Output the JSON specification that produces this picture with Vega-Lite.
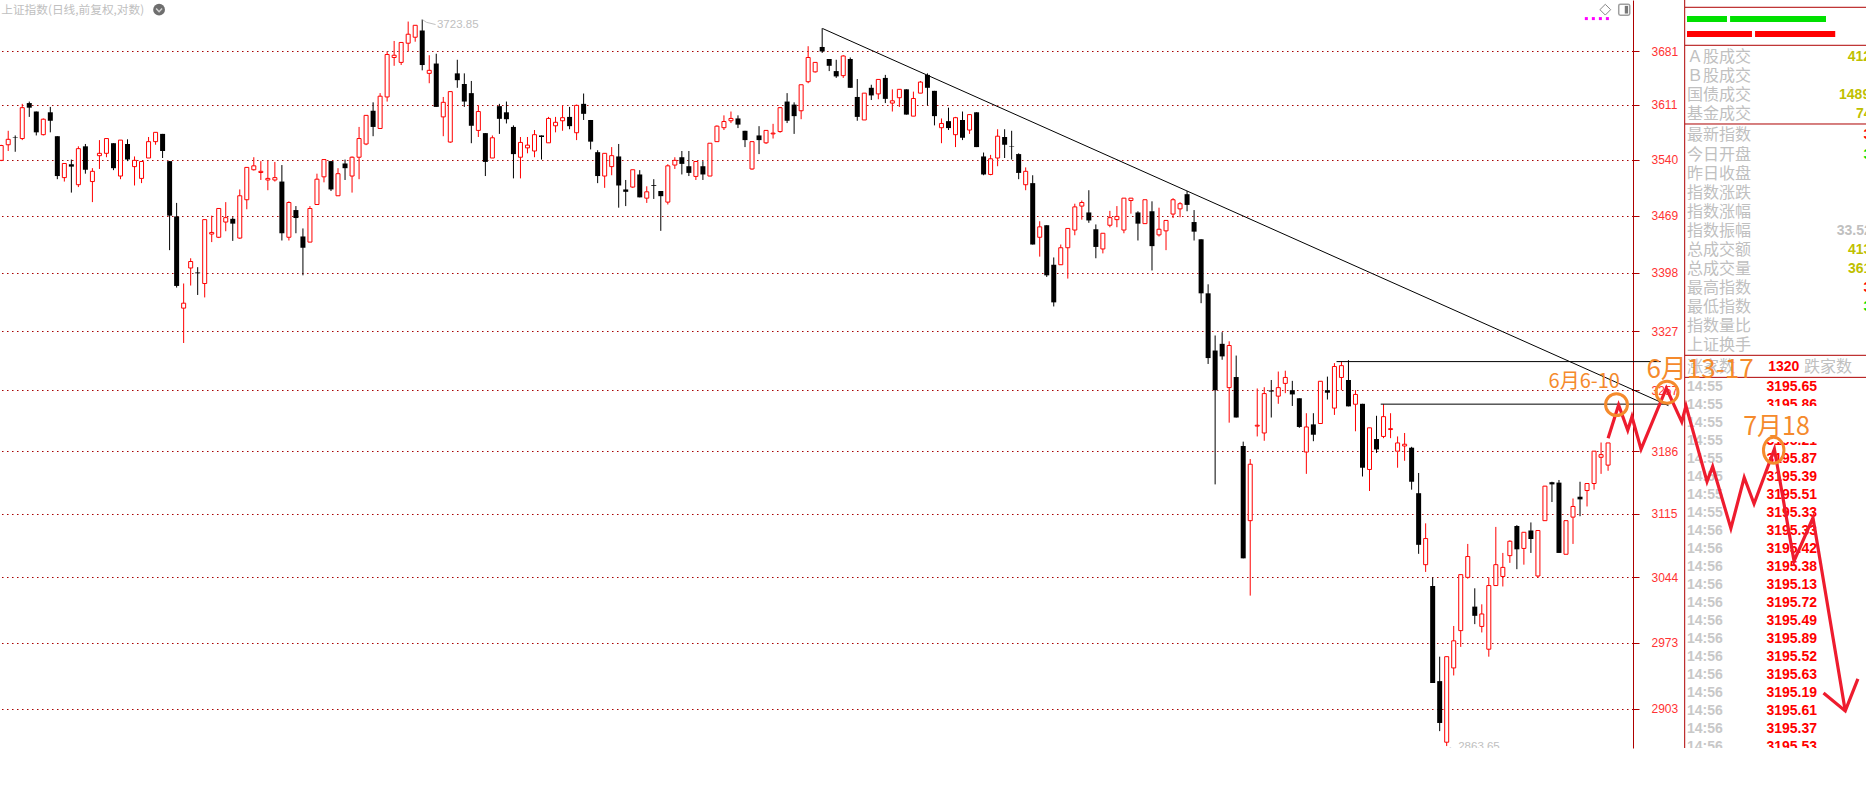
{"$schema":"https://vega.github.io/schema/vega-lite/v6.json","width":1633,"height":748,"autosize":{"type":"none"},"padding":{"left":0,"top":0,"right":233,"bottom":48},"background":"#ffffff","config":{"view":{"stroke":null}},
"datasets":{"candles":[
{"n":0,"o":3539,"h":3559,"l":3538,"c":3558},{"n":1,"o":3559,"h":3577,"l":3551,"c":3566},{"n":2,"o":3569,"h":3571,"l":3550,"c":3568.5},{"n":3,"o":3567,"h":3612,"l":3565,"c":3607},{"n":4,"o":3613,"h":3615,"l":3595,"c":3607},{"n":5,"o":3602,"h":3602,"l":3571,"c":3575},{"n":6,"o":3572,"h":3593,"l":3571,"c":3592},{"n":7,"o":3601,"h":3608,"l":3575,"c":3590},{"n":8,"o":3570,"h":3570,"l":3515,"c":3519},{"n":9,"o":3517,"h":3535,"l":3512,"c":3535},
{"n":10,"o":3534,"h":3540,"l":3498,"c":3531},{"n":11,"o":3508,"h":3557,"l":3505,"c":3554},{"n":12,"o":3557,"h":3560,"l":3522,"c":3527},{"n":13,"o":3512,"h":3529,"l":3486,"c":3525},{"n":14,"o":3545,"h":3565,"l":3528,"c":3548},{"n":15,"o":3548,"h":3567,"l":3543,"c":3567},{"n":16,"o":3561,"h":3561,"l":3526.5,"c":3529},{"n":17,"o":3519,"h":3565,"l":3515,"c":3565},{"n":18,"o":3560,"h":3566,"l":3538,"c":3540},{"n":19,"o":3531,"h":3544,"l":3507,"c":3539},
{"n":20,"o":3516,"h":3537.5,"l":3510,"c":3537.5},{"n":21,"o":3542,"h":3569,"l":3542,"c":3563},{"n":22,"o":3563,"h":3575,"l":3559,"c":3575},{"n":23,"o":3573,"h":3573,"l":3542,"c":3551},{"n":24,"o":3538,"h":3538,"l":3426,"c":3469},{"n":25,"o":3468,"h":3485,"l":3380,"c":3382},{"n":26,"o":3355,"h":3385,"l":3313,"c":3361},{"n":27,"o":3404,"h":3416,"l":3382.5,"c":3412},{"n":28,"o":3398.5,"h":3405,"l":3371,"c":3397.5},{"n":29,"o":3385,"h":3464,"l":3368,"c":3464},
{"n":30,"o":3446,"h":3469,"l":3436,"c":3448},{"n":31,"o":3442,"h":3478,"l":3441,"c":3478},{"n":32,"o":3461,"h":3486,"l":3449.5,"c":3466.5},{"n":33,"o":3465,"h":3467,"l":3437.5,"c":3459},{"n":34,"o":3441,"h":3502,"l":3440,"c":3494},{"n":35,"o":3489,"h":3530,"l":3477,"c":3530},{"n":36,"o":3527,"h":3543,"l":3526,"c":3532},{"n":37,"o":3523.5,"h":3538,"l":3514,"c":3525},{"n":38,"o":3514,"h":3539,"l":3501,"c":3516},{"n":39,"o":3514,"h":3537,"l":3512,"c":3517},
{"n":40,"o":3512,"h":3533,"l":3438,"c":3447},{"n":41,"o":3442,"h":3487,"l":3438,"c":3485.5},{"n":42,"o":3476,"h":3481,"l":3447,"c":3466},{"n":43,"o":3443,"h":3453,"l":3395,"c":3429},{"n":44,"o":3436,"h":3481,"l":3436,"c":3478},{"n":45,"o":3483,"h":3522,"l":3483,"c":3515},{"n":46,"o":3518,"h":3540,"l":3511,"c":3540},{"n":47,"o":3538,"h":3538,"l":3500,"c":3502},{"n":48,"o":3494,"h":3529,"l":3494,"c":3522},{"n":49,"o":3535,"h":3540,"l":3514,"c":3529},
{"n":50,"o":3519,"h":3544,"l":3498,"c":3543},{"n":51,"o":3543,"h":3582,"l":3515,"c":3567},{"n":52,"o":3560,"h":3597,"l":3558.5,"c":3597},{"n":53,"o":3603,"h":3614,"l":3570,"c":3582},{"n":54,"o":3580,"h":3626,"l":3580,"c":3622},{"n":55,"o":3621,"h":3681,"l":3615,"c":3677},{"n":56,"o":3673,"h":3695,"l":3662,"c":3676},{"n":57,"o":3666.5,"h":3693,"l":3663,"c":3693},{"n":58,"o":3692,"h":3721,"l":3681,"c":3704},{"n":59,"o":3700,"h":3716,"l":3694,"c":3716},
{"n":60,"o":3709,"h":3723.85,"l":3656,"c":3663},{"n":61,"o":3652,"h":3676,"l":3639,"c":3656},{"n":62,"o":3665,"h":3678,"l":3608,"c":3608},{"n":63,"o":3595,"h":3621,"l":3570,"c":3614},{"n":64,"o":3562.5,"h":3628,"l":3561.5,"c":3628},{"n":65,"o":3652,"h":3670,"l":3633,"c":3643},{"n":66,"o":3638,"h":3652,"l":3608,"c":3615},{"n":67,"o":3626,"h":3642,"l":3561,"c":3583.5},{"n":68,"o":3577.5,"h":3610,"l":3569,"c":3602},{"n":69,"o":3574,"h":3574,"l":3519,"c":3537},
{"n":70,"o":3542,"h":3571,"l":3542,"c":3568},{"n":71,"o":3609,"h":3612,"l":3573,"c":3592.5},{"n":72,"o":3601,"h":3615,"l":3586.5,"c":3592},{"n":73,"o":3582,"h":3584,"l":3516,"c":3547},{"n":74,"o":3543,"h":3569,"l":3516,"c":3562},{"n":75,"o":3555,"h":3569,"l":3548,"c":3558.5},{"n":76,"o":3551,"h":3578,"l":3543,"c":3572},{"n":77,"o":3571,"h":3571,"l":3540,"c":3569},{"n":78,"o":3561.5,"h":3595,"l":3561.5,"c":3593},{"n":79,"o":3583.5,"h":3595,"l":3575,"c":3588},
{"n":80,"o":3590,"h":3610,"l":3577,"c":3594},{"n":81,"o":3595,"h":3608,"l":3579,"c":3583},{"n":82,"o":3574.5,"h":3611,"l":3565,"c":3610},{"n":83,"o":3612,"h":3625.5,"l":3591,"c":3599},{"n":84,"o":3591,"h":3591,"l":3553,"c":3563},{"n":85,"o":3549.5,"h":3552,"l":3510,"c":3519},{"n":86,"o":3519,"h":3548,"l":3504,"c":3548},{"n":87,"o":3531,"h":3556,"l":3520,"c":3545},{"n":88,"o":3544,"h":3560,"l":3479,"c":3507},{"n":89,"o":3502,"h":3514,"l":3481,"c":3499},
{"n":90,"o":3505,"h":3527,"l":3504,"c":3527},{"n":91,"o":3521,"h":3526.5,"l":3492,"c":3492},{"n":92,"o":3491,"h":3506,"l":3485,"c":3499},{"n":93,"o":3507.5,"h":3515,"l":3490,"c":3506.5},{"n":94,"o":3500,"h":3500,"l":3450,"c":3493.5},{"n":95,"o":3486,"h":3534,"l":3483,"c":3532},{"n":96,"o":3533,"h":3543,"l":3528,"c":3539},{"n":97,"o":3543,"h":3551,"l":3521,"c":3534.5},{"n":98,"o":3531.5,"h":3551,"l":3519,"c":3523},{"n":99,"o":3518.5,"h":3537.5,"l":3514,"c":3537.5},
{"n":100,"o":3531.5,"h":3538,"l":3514,"c":3521},{"n":101,"o":3519,"h":3561,"l":3519,"c":3561},{"n":102,"o":3563,"h":3584,"l":3563,"c":3583},{"n":103,"o":3581,"h":3597,"l":3578,"c":3589},{"n":104,"o":3590,"h":3602,"l":3587,"c":3593},{"n":105,"o":3593,"h":3597,"l":3580.5,"c":3585},{"n":106,"o":3577,"h":3577,"l":3556,"c":3565},{"n":107,"o":3528,"h":3563,"l":3527,"c":3563},{"n":108,"o":3571,"h":3583,"l":3547,"c":3565},{"n":109,"o":3561.5,"h":3577.5,"l":3560,"c":3577.5},
{"n":110,"o":3573,"h":3586,"l":3567,"c":3574},{"n":111,"o":3576,"h":3607,"l":3574.5,"c":3607},{"n":112,"o":3615,"h":3626,"l":3587,"c":3590},{"n":113,"o":3611,"h":3614,"l":3573,"c":3596},{"n":114,"o":3603,"h":3637,"l":3592,"c":3637},{"n":115,"o":3641,"h":3688,"l":3639,"c":3673},{"n":116,"o":3654,"h":3666.5,"l":3653,"c":3666.5},{"n":117,"o":3687,"h":3712,"l":3679,"c":3681},{"n":118,"o":3671,"h":3671,"l":3655,"c":3662},{"n":119,"o":3655,"h":3670,"l":3646,"c":3648},
{"n":120,"o":3649,"h":3676,"l":3646,"c":3675},{"n":121,"o":3671,"h":3673,"l":3633,"c":3633},{"n":122,"o":3621,"h":3644.5,"l":3590,"c":3595},{"n":123,"o":3591,"h":3626,"l":3591,"c":3626},{"n":124,"o":3633,"h":3637,"l":3617,"c":3623},{"n":125,"o":3625,"h":3644,"l":3618,"c":3644},{"n":126,"o":3646,"h":3650,"l":3613,"c":3618.5},{"n":127,"o":3613,"h":3631,"l":3602,"c":3616},{"n":128,"o":3620,"h":3631,"l":3608,"c":3631},{"n":129,"o":3631,"h":3631,"l":3598,"c":3598},
{"n":130,"o":3596,"h":3628,"l":3596,"c":3619},{"n":131,"o":3626,"h":3642,"l":3626,"c":3640.5},{"n":132,"o":3650,"h":3652,"l":3610,"c":3633},{"n":133,"o":3629,"h":3629,"l":3584,"c":3596},{"n":134,"o":3581,"h":3593,"l":3561,"c":3586.5},{"n":135,"o":3589.5,"h":3607,"l":3578,"c":3580.5},{"n":136,"o":3572,"h":3595,"l":3556,"c":3594},{"n":137,"o":3591,"h":3602,"l":3565,"c":3568},{"n":138,"o":3578,"h":3598,"l":3573,"c":3598},{"n":139,"o":3601,"h":3601,"l":3556,"c":3556},
{"n":140,"o":3544,"h":3549,"l":3520,"c":3521},{"n":141,"o":3521,"h":3546,"l":3520,"c":3541},{"n":142,"o":3542,"h":3579,"l":3531.5,"c":3570},{"n":143,"o":3569,"h":3579,"l":3542,"c":3559},{"n":144,"o":3557,"h":3577,"l":3540,"c":3556.4},{"n":145,"o":3547,"h":3548,"l":3515,"c":3523},{"n":146,"o":3508,"h":3530,"l":3501,"c":3525},{"n":147,"o":3510,"h":3520,"l":3433,"c":3433},{"n":148,"o":3442,"h":3462,"l":3418,"c":3455},{"n":149,"o":3457,"h":3457,"l":3393,"c":3395},
{"n":150,"o":3408,"h":3417,"l":3357,"c":3362},{"n":151,"o":3408,"h":3433,"l":3408,"c":3429},{"n":152,"o":3429,"h":3453,"l":3391,"c":3453},{"n":153,"o":3451,"h":3484,"l":3444.5,"c":3480},{"n":154,"o":3481,"h":3488,"l":3464,"c":3485.5},{"n":155,"o":3473,"h":3501,"l":3460,"c":3463},{"n":156,"o":3452,"h":3458,"l":3416,"c":3430},{"n":157,"o":3427.5,"h":3447,"l":3422,"c":3447},{"n":158,"o":3457,"h":3475,"l":3454.5,"c":3466.5},{"n":159,"o":3464,"h":3481,"l":3454.5,"c":3468},
{"n":160,"o":3451,"h":3491,"l":3447,"c":3491},{"n":161,"o":3488,"h":3491,"l":3471.5,"c":3491},{"n":162,"o":3473,"h":3474.5,"l":3438,"c":3459},{"n":163,"o":3459,"h":3489,"l":3459,"c":3489},{"n":164,"o":3474.5,"h":3487,"l":3401,"c":3431},{"n":165,"o":3445,"h":3479,"l":3443,"c":3452},{"n":166,"o":3450,"h":3463,"l":3426,"c":3463},{"n":167,"o":3471,"h":3491,"l":3466,"c":3489},{"n":168,"o":3477.5,"h":3486,"l":3467,"c":3484},{"n":169,"o":3496,"h":3500,"l":3474.5,"c":3482.5},
{"n":170,"o":3461,"h":3476,"l":3438,"c":3449},{"n":171,"o":3439.5,"h":3439.5,"l":3361,"c":3373},{"n":172,"o":3373,"h":3384,"l":3288,"c":3295},{"n":173,"o":3304,"h":3322,"l":3148,"c":3257},{"n":174,"o":3312,"h":3326,"l":3293,"c":3297},{"n":175,"o":3260,"h":3315,"l":3219,"c":3310},{"n":176,"o":3272.5,"h":3298,"l":3225,"c":3225},{"n":177,"o":3192,"h":3197,"l":3065,"c":3065},{"n":178,"o":3107,"h":3177,"l":3024,"c":3171},{"n":179,"o":3215,"h":3259,"l":3203,"c":3216},
{"n":180,"o":3207,"h":3260.5,"l":3198,"c":3253},{"n":181,"o":3256.6,"h":3269,"l":3225,"c":3255.4},{"n":182,"o":3250,"h":3279,"l":3241,"c":3260},{"n":183,"o":3265,"h":3280,"l":3253.5,"c":3272},{"n":184,"o":3257,"h":3268,"l":3238.5,"c":3252},{"n":185,"o":3247.5,"h":3247.5,"l":3213,"c":3214},{"n":186,"o":3185,"h":3230,"l":3160,"c":3214},{"n":187,"o":3217,"h":3230,"l":3197.5,"c":3205},{"n":188,"o":3218,"h":3267.5,"l":3218,"c":3267.5},{"n":189,"o":3257,"h":3273,"l":3246,"c":3254},
{"n":190,"o":3236,"h":3289,"l":3228,"c":3285},{"n":191,"o":3272,"h":3291,"l":3257,"c":3286},{"n":192,"o":3269,"h":3292.5,"l":3238,"c":3238},{"n":193,"o":3240.5,"h":3257,"l":3209,"c":3252},{"n":194,"o":3241,"h":3241,"l":3157,"c":3167},{"n":195,"o":3165,"h":3213,"l":3140.5,"c":3213},{"n":196,"o":3200,"h":3227,"l":3184,"c":3188},{"n":197,"o":3203,"h":3240.5,"l":3201,"c":3226},{"n":198,"o":3211,"h":3230,"l":3201,"c":3212},{"n":199,"o":3186,"h":3203,"l":3167,"c":3195.5},
{"n":200,"o":3192,"h":3207,"l":3175,"c":3194},{"n":201,"o":3190,"h":3191,"l":3142,"c":3151},{"n":202,"o":3138,"h":3161,"l":3070,"c":3080},{"n":203,"o":3058,"h":3104,"l":3050,"c":3087},{"n":204,"o":3034.5,"h":3044,"l":2930,"c":2930},{"n":205,"o":2932,"h":2958,"l":2879.5,"c":2888},{"n":206,"o":2868,"h":2958,"l":2864,"c":2958},{"n":207,"o":2946,"h":2991,"l":2938,"c":2975},{"n":208,"o":2986,"h":3047,"l":2968.5,"c":3047},{"n":209,"o":3044,"h":3081,"l":3042.5,"c":3067},
{"n":210,"o":3012,"h":3032,"l":2993,"c":3002},{"n":211,"o":2990.5,"h":3014.5,"l":2984,"c":3004},{"n":212,"o":2966,"h":3044,"l":2958,"c":3035},{"n":213,"o":3035,"h":3100,"l":3035,"c":3058},{"n":214,"o":3045,"h":3071,"l":3034,"c":3055},{"n":215,"o":3068,"h":3085,"l":3060,"c":3084},{"n":216,"o":3101,"h":3102,"l":3053,"c":3075},{"n":217,"o":3076,"h":3094,"l":3058,"c":3094},{"n":218,"o":3096,"h":3105,"l":3071,"c":3086.5},{"n":219,"o":3045.5,"h":3096,"l":3043.6,"c":3096},
{"n":220,"o":3107,"h":3146.3,"l":3107,"c":3146},{"n":221,"o":3150.5,"h":3151,"l":3128,"c":3148},{"n":222,"o":3150,"h":3153,"l":3071,"c":3071},{"n":223,"o":3069.5,"h":3107,"l":3069.5,"c":3107},{"n":224,"o":3111,"h":3132,"l":3081,"c":3123},{"n":225,"o":3134,"h":3151,"l":3112,"c":3131},{"n":226,"o":3141,"h":3149,"l":3123,"c":3149},{"n":227,"o":3149,"h":3186,"l":3142,"c":3186},{"n":228,"o":3179,"h":3196,"l":3160,"c":3182},{"n":229,"o":3170,"h":3195.5,"l":3163.5,"c":3195.5}
],
"lines":[
{"s":"trend","ord":0,"n":117.05,"p":3711.7},{"s":"trend","ord":1,"n":237.6,"p":3238.9},
{"s":"upper","ord":0,"n":190.3,"p":3290.8},{"s":"upper","ord":1,"n":236.5,"p":3290.8},
{"s":"lower","ord":0,"n":196.6,"p":3240.6},{"s":"lower","ord":1,"n":237.6,"p":3240.6}
],
"leaders":[{"s":"lead","ord":0,"n":60,"p":3723.8},{"s":"lead","ord":1,"n":60.6,"p":3720},{"s":"lead","ord":2,"n":61.9,"p":3717}],
"path":[
{"s":"main","ord":0,"n":229.0,"p":3201},{"s":"main","ord":1,"n":230.5,"p":3239.7},{"s":"main","ord":2,"n":231.8,"p":3210.1},{"s":"main","ord":3,"n":232.4,"p":3225.9},{"s":"main","ord":4,"n":233.7,"p":3188.4},{"s":"main","ord":5,"n":237.3,"p":3259.3},{"s":"main","ord":6,"n":239.5,"p":3220},{"s":"main","ord":7,"n":240.1,"p":3238.5},{"s":"main","ord":8,"n":243.1,"p":3151.2},{"s":"main","ord":9,"n":243.9,"p":3168.4},{"s":"main","ord":10,"n":246.5,"p":3098.4},{"s":"main","ord":11,"n":248.4,"p":3155.8},{"s":"main","ord":12,"n":249.8,"p":3126},{"s":"main","ord":13,"n":252.7,"p":3188.4},{"s":"main","ord":14,"n":255.5,"p":3062.1},{"s":"main","ord":15,"n":258.2,"p":3110.2},{"s":"main","ord":16,"n":262.8,"p":2900.6},
{"s":"head","ord":0,"n":259.7,"p":2919.4},{"s":"head","ord":1,"n":262.8,"p":2900.6},{"s":"head","ord":2,"n":264.6,"p":2934.4}
],
"notes":[
{"t":"6月6-10","k":"a","n":225.6,"p":3266.7},{"t":"6月13-17","k":"b","n":242.1,"p":3280.7},{"t":"7月18","k":"c","n":253,"p":3214},
{"t":"3723.85","k":"hi","n":62.1,"p":3717},{"t":"←2863.65","k":"hi","n":206,"p":2863},
{"t":"上证指数(日线,前复权,对数)","k":"title","n":0,"p":3737}
],
"rings":[{"k":"r1","n":230.2,"p":3240},{"k":"r2","n":237.4,"p":3254.6},{"k":"r3","n":252.6,"p":3187}],
"icons":[{"k":"diamond","n":228.6,"p":3737},{"k":"box","n":231.3,"p":3737},{"k":"dot","n":22.5,"p":3737},{"k":"m","n":225.9,"p":3725},{"k":"m","n":226.9,"p":3725},{"k":"m","n":227.9,"p":3725},{"k":"m","n":228.9,"p":3725}],
"panelLines":[{"row":0.384},{"row":2.384},{"row":6.526},{"row":18.7},{"row":19.86}],
"panelBars":[{"k":"n","a":1.1,"b":23.2,"r0":0.84,"r1":1.16},{"k":"n","a":24.9,"b":77.9,"r0":0.84,"r1":1.16},{"k":"r","a":1.1,"b":37,"r0":1.63,"r1":1.947},{"k":"r","a":38.7,"b":83,"r0":1.63,"r1":1.947}],
"panelMask":[{"k":"w","a":40,"b":100,"r0":21.37,"r1":23.26},{"k":"w","a":-0.2,"b":100,"r0":39.368,"r1":41.9}],
"panelLabels":[
{"t":"Ａ股成交","row":2.98},{"t":"Ｂ股成交","row":4},{"t":"国债成交","row":5},{"t":"基金成交","row":6},{"t":"最新指数","row":7.1},{"t":"今日开盘","row":8.14},{"t":"昨日收盘","row":9.14},{"t":"指数涨跌","row":10.14},{"t":"指数涨幅","row":11.14},{"t":"指数振幅","row":12.14},{"t":"总成交额","row":13.16},{"t":"总成交量","row":14.16},{"t":"最高指数","row":15.16},{"t":"最低指数","row":16.14},{"t":"指数量比","row":17.14},{"t":"上证换手","row":18.16},{"t":"涨家数","row":19.3,"col":1.1},{"t":"跌家数","row":19.3,"col":65.7}
],
"panelAmounts":[
{"t":"4126","row":2.98,"col":89.9,"k":"y"},{"t":"14892","row":5,"col":85.1,"k":"y"},{"t":"746","row":6,"col":94.5,"k":"y"},{"t":"33.52","row":12.14,"col":83.8,"k":"g"},{"t":"4137","row":13.16,"col":90,"k":"y"},{"t":"3617","row":14.16,"col":90,"k":"y"},{"t":"3","row":7.1,"col":98.6,"k":"r"},{"t":"3","row":8.14,"col":98.6,"k":"n"},{"t":"3","row":15.16,"col":98.6,"k":"r"},{"t":"3","row":16.14,"col":98.6,"k":"n"},{"t":"1320","row":19.3,"col":46,"k":"r"}
],
"ticks":[
{"t":"14:55","v":"3195.65","row":20.384},{"t":"14:55","v":"3195.86","row":21.332},{"t":"14:55","v":"3195.74","row":22.28},{"t":"14:55","v":"3195.21","row":23.226},{"t":"14:55","v":"3195.87","row":24.174},{"t":"14:55","v":"3195.39","row":25.12},{"t":"14:55","v":"3195.51","row":26.068},{"t":"14:55","v":"3195.33","row":27.016},{"t":"14:56","v":"3195.33","row":27.963},{"t":"14:56","v":"3195.42","row":28.91},{"t":"14:56","v":"3195.38","row":29.858},{"t":"14:56","v":"3195.13","row":30.805},{"t":"14:56","v":"3195.72","row":31.752},{"t":"14:56","v":"3195.49","row":32.7},{"t":"14:56","v":"3195.89","row":33.647},{"t":"14:56","v":"3195.52","row":34.594},{"t":"14:56","v":"3195.63","row":35.542},{"t":"14:56","v":"3195.19","row":36.49},{"t":"14:56","v":"3195.61","row":37.437},{"t":"14:56","v":"3195.37","row":38.384},{"t":"14:56","v":"3195.53","row":39.331}
]},
"resolve":{"scale":{"x":"independent","y":"independent"}},
"layer":[
{"layer":[
{"data":{"name":"candles"},"mark":{"type":"rule","strokeWidth":1,"color":"#000000"},"transform":[{"filter":"datum.c<datum.o"}],"encoding":{"x":{"field":"n","type":"quantitative","scale":{"domain":[-0.171,232.55],"nice":false,"zero":false,"padding":0},"axis":null},"y":{"field":"l","type":"quantitative","scale":{"type":"log","domain":[2862,3750.1],"nice":false,"zero":false},"axis":{"orient":"right","title":null,"values":[2903,2973,3044,3115,3186,3257,3327,3398,3469,3540,3611,3681],"format":"d","grid":true,"gridColor":"#A80000","gridDash":[1.5,3.5],"gridWidth":1.2,"gridOpacity":1,"domain":true,"domainColor":"#AE0000","domainWidth":1,"ticks":true,"tickColor":"#AE0000","tickSize":6,"tickWidth":1,"labelColor":"#FF3333","labelFont":"Liberation Sans","labelFontSize":12,"labelPadding":12,"labelOverlap":false,"labelBound":false,"labelFlush":false}},"y2":{"field":"h"}}},
{"data":{"name":"candles"},"mark":{"type":"bar","size":5,"color":"#000000"},"transform":[{"filter":"datum.c<datum.o"}],"encoding":{"x":{"field":"n","type":"quantitative","scale":{"domain":[-0.171,232.55],"nice":false,"zero":false,"padding":0}},"y":{"field":"o","type":"quantitative","scale":{"type":"log","domain":[2862,3750.1],"nice":false,"zero":false}},"y2":{"field":"c"}}},
{"data":{"name":"candles"},"mark":{"type":"rule","strokeWidth":1,"color":"#FF0000"},"transform":[{"filter":"datum.c>=datum.o"}],"encoding":{"x":{"field":"n","type":"quantitative","scale":{"domain":[-0.171,232.55],"nice":false,"zero":false,"padding":0}},"y":{"field":"l","type":"quantitative","scale":{"type":"log","domain":[2862,3750.1],"nice":false,"zero":false}},"y2":{"field":"h"}}},
{"data":{"name":"candles"},"mark":{"type":"bar","size":4,"fill":"#FFFFFF","stroke":"#FF0000","strokeWidth":1},"transform":[{"filter":"datum.c>=datum.o"}],"encoding":{"x":{"field":"n","type":"quantitative","scale":{"domain":[-0.171,232.55],"nice":false,"zero":false,"padding":0}},"y":{"field":"o","type":"quantitative","scale":{"type":"log","domain":[2862,3750.1],"nice":false,"zero":false}},"y2":{"field":"c"}}},
{"data":{"name":"leaders"},"mark":{"type":"line","strokeWidth":1,"color":"#C0C0C0"},"encoding":{"x":{"field":"n","type":"quantitative","scale":{"domain":[-0.171,232.55],"nice":false,"zero":false,"padding":0}},"y":{"field":"p","type":"quantitative","scale":{"type":"log","domain":[2862,3750.1],"nice":false,"zero":false}},"order":{"field":"ord"}}},
{"data":{"name":"notes"},"mark":{"type":"text","clip":true,"align":"left","baseline":"middle","font":"Liberation Sans","fontSize":11.5,"color":"#C0C0C0"},"transform":[{"filter":"datum.k=='hi'"}],"encoding":{"x":{"field":"n","type":"quantitative","scale":{"domain":[-0.171,232.55],"nice":false,"zero":false,"padding":0}},"y":{"field":"p","type":"quantitative","scale":{"type":"log","domain":[2862,3750.1],"nice":false,"zero":false}},"text":{"field":"t"}}},
{"data":{"name":"notes"},"mark":{"type":"text","align":"left","baseline":"middle","font":"Noto Sans CJK SC","fontSize":11.7,"color":"#C0C0C0"},"transform":[{"filter":"datum.k=='title'"}],"encoding":{"x":{"field":"n","type":"quantitative","scale":{"domain":[-0.171,232.55],"nice":false,"zero":false,"padding":0}},"y":{"field":"p","type":"quantitative","scale":{"type":"log","domain":[2862,3750.1],"nice":false,"zero":false}},"text":{"field":"t"}}},
{"data":{"name":"icons"},"mark":{"type":"point","shape":"diamond","size":115,"filled":false,"stroke":"#555555","strokeWidth":1},"transform":[{"filter":"datum.k=='diamond'"}],"encoding":{"x":{"field":"n","type":"quantitative","scale":{"domain":[-0.171,232.55],"nice":false,"zero":false,"padding":0}},"y":{"field":"p","type":"quantitative","scale":{"type":"log","domain":[2862,3750.1],"nice":false,"zero":false}}}},
{"data":{"name":"icons"},"mark":{"type":"point","shape":"M-1,-0.7 Q-1,-1 -0.7,-1 H0.7 Q1,-1 1,-0.7 V0.7 Q1,1 0.7,1 H-0.7 Q-1,1 -1,0.7 Z","size":121,"filled":false,"stroke":"#777777","strokeWidth":1.5},"transform":[{"filter":"datum.k=='box'"}],"encoding":{"x":{"field":"n","type":"quantitative","scale":{"domain":[-0.171,232.55],"nice":false,"zero":false,"padding":0}},"y":{"field":"p","type":"quantitative","scale":{"type":"log","domain":[2862,3750.1],"nice":false,"zero":false}}}},
{"data":{"name":"icons"},"mark":{"type":"point","shape":"M0.1,-0.7 H0.7 V0.7 H0.1 Z","size":121,"filled":true,"opacity":1,"fill":"#777777","strokeWidth":0},"transform":[{"filter":"datum.k=='box'"}],"encoding":{"x":{"field":"n","type":"quantitative","scale":{"domain":[-0.171,232.55],"nice":false,"zero":false,"padding":0}},"y":{"field":"p","type":"quantitative","scale":{"type":"log","domain":[2862,3750.1],"nice":false,"zero":false}}}},
{"data":{"name":"icons"},"mark":{"type":"point","shape":"circle","size":140,"filled":true,"opacity":1,"fill":"#6E6E6E","strokeWidth":0},"transform":[{"filter":"datum.k=='dot'"}],"encoding":{"x":{"field":"n","type":"quantitative","scale":{"domain":[-0.171,232.55],"nice":false,"zero":false,"padding":0}},"y":{"field":"p","type":"quantitative","scale":{"type":"log","domain":[2862,3750.1],"nice":false,"zero":false}}}},
{"data":{"name":"icons"},"mark":{"type":"point","shape":"M-0.5,-0.2 L0,0.35 L0.5,-0.2","size":140,"filled":false,"stroke":"#FFFFFF","strokeWidth":1.5},"transform":[{"filter":"datum.k=='dot'"}],"encoding":{"x":{"field":"n","type":"quantitative","scale":{"domain":[-0.171,232.55],"nice":false,"zero":false,"padding":0}},"y":{"field":"p","type":"quantitative","scale":{"type":"log","domain":[2862,3750.1],"nice":false,"zero":false}}}},
{"data":{"name":"icons"},"mark":{"type":"point","shape":"square","size":9,"filled":true,"opacity":1,"fill":"#FF00FF","strokeWidth":0},"transform":[{"filter":"datum.k=='m'"}],"encoding":{"x":{"field":"n","type":"quantitative","scale":{"domain":[-0.171,232.55],"nice":false,"zero":false,"padding":0}},"y":{"field":"p","type":"quantitative","scale":{"type":"log","domain":[2862,3750.1],"nice":false,"zero":false}}}}
]},
{"layer":[
{"data":{"name":"panelLabels"},"transform":[{"calculate":"datum.col||1.1","as":"cx"}],"mark":{"type":"text","align":"left","baseline":"middle","font":"Noto Sans CJK SC","fontSize":16,"color":"#C0C0C0"},"encoding":{"x":{"field":"cx","type":"quantitative","scale":{"domain":[0,100],"range":[1685,1866],"nice":false,"zero":false},"axis":null},"y":{"field":"row","type":"quantitative","scale":{"domain":[0,39.368],"range":[0,748],"nice":false,"zero":false},"axis":null},"text":{"field":"t"}}},
{"data":{"name":"panelAmounts"},"mark":{"type":"text","align":"left","baseline":"middle","font":"Liberation Sans","fontSize":14,"fontWeight":"bold"},"encoding":{"x":{"field":"col","type":"quantitative","scale":{"domain":[0,100],"range":[1685,1866],"nice":false,"zero":false},"axis":null},"y":{"field":"row","type":"quantitative","scale":{"domain":[0,39.368],"range":[0,748],"nice":false,"zero":false},"axis":null},"text":{"field":"t"},"color":{"field":"k","type":"nominal","scale":{"domain":["y","g","r","n"],"range":["#BFBF00","#C0C0C0","#FF0000","#00E000"]},"legend":null}}},
{"data":{"name":"ticks"},"transform":[{"calculate":"1.1","as":"cx"}],"mark":{"type":"text","align":"left","baseline":"middle","font":"Liberation Sans","fontSize":14,"fontWeight":"bold","color":"#C8C8C8"},"encoding":{"x":{"field":"cx","type":"quantitative","scale":{"domain":[0,100],"range":[1685,1866],"nice":false,"zero":false}},"y":{"field":"row","type":"quantitative","scale":{"domain":[0,39.368],"range":[0,748],"nice":false,"zero":false}},"text":{"field":"t"}}},
{"data":{"name":"ticks"},"transform":[{"calculate":"45","as":"cx"}],"mark":{"type":"text","align":"left","baseline":"middle","font":"Liberation Sans","fontSize":14,"fontWeight":"bold","color":"#FF0000"},"encoding":{"x":{"field":"cx","type":"quantitative","scale":{"domain":[0,100],"range":[1685,1866],"nice":false,"zero":false}},"y":{"field":"row","type":"quantitative","scale":{"domain":[0,39.368],"range":[0,748],"nice":false,"zero":false}},"text":{"field":"v"}}},
{"data":{"name":"panelMask"},"mark":{"type":"rect","fill":"#FFFFFF"},"encoding":{"x":{"field":"a","type":"quantitative","scale":{"domain":[0,100],"range":[1685,1866],"nice":false,"zero":false}},"x2":{"field":"b"},"y":{"field":"r0","type":"quantitative","scale":{"domain":[0,39.368],"range":[0,748],"nice":false,"zero":false}},"y2":{"field":"r1"}}},
{"data":{"name":"panelBars"},"mark":{"type":"rect"},"encoding":{"x":{"field":"a","type":"quantitative","scale":{"domain":[0,100],"range":[1685,1866],"nice":false,"zero":false}},"x2":{"field":"b"},"y":{"field":"r0","type":"quantitative","scale":{"domain":[0,39.368],"range":[0,748],"nice":false,"zero":false}},"y2":{"field":"r1"},"color":{"field":"k","type":"nominal","scale":{"domain":["y","g","r","n"],"range":["#BFBF00","#C0C0C0","#FF0000","#00E000"]},"legend":null}}},
{"data":{"name":"panelLines"},"transform":[{"calculate":"0","as":"a"},{"calculate":"100","as":"b"}],"mark":{"type":"rule","strokeWidth":1,"color":"#AE0000"},"encoding":{"x":{"field":"a","type":"quantitative","scale":{"domain":[0,100],"range":[1685,1866],"nice":false,"zero":false}},"x2":{"field":"b"},"y":{"field":"row","type":"quantitative","scale":{"domain":[0,39.368],"range":[0,748],"nice":false,"zero":false}}}},
{"data":{"values":[{"a":-0.17,"r0":0,"r1":39.368}]},"mark":{"type":"rule","strokeWidth":1,"color":"#AE0000"},"encoding":{"x":{"field":"a","type":"quantitative","scale":{"domain":[0,100],"range":[1685,1866],"nice":false,"zero":false}},"y":{"field":"r0","type":"quantitative","scale":{"domain":[0,39.368],"range":[0,748],"nice":false,"zero":false}},"y2":{"field":"r1"}}}
]},
{"layer":[
{"data":{"name":"lines"},"mark":{"type":"line","strokeWidth":1,"color":"#000000"},"encoding":{"x":{"field":"n","type":"quantitative","scale":{"domain":[-0.171,232.55],"nice":false,"zero":false},"axis":null},"y":{"field":"p","type":"quantitative","scale":{"type":"log","domain":[2862,3750.1],"nice":false,"zero":false},"axis":null},"detail":{"field":"s"},"order":{"field":"ord"}}},
{"data":{"name":"path"},"mark":{"type":"line","strokeWidth":3.2,"color":"#EE1C2E","strokeJoin":"miter"},"encoding":{"x":{"field":"n","type":"quantitative","scale":{"domain":[-0.171,232.55],"nice":false,"zero":false}},"y":{"field":"p","type":"quantitative","scale":{"type":"log","domain":[2862,3750.1],"nice":false,"zero":false}},"detail":{"field":"s"},"order":{"field":"ord"}}},
{"data":{"name":"rings"},"mark":{"type":"point","shape":"M-0.95,0 A0.95,0.95 0 1,1 0.95,0 A0.95,0.95 0 1,1 -0.95,0 Z","size":530,"filled":false,"stroke":"#F58A2C","strokeWidth":3,"opacity":1},"transform":[{"filter":"datum.k!='r3'"}],"encoding":{"x":{"field":"n","type":"quantitative","scale":{"domain":[-0.171,232.55],"nice":false,"zero":false}},"y":{"field":"p","type":"quantitative","scale":{"type":"log","domain":[2862,3750.1],"nice":false,"zero":false}}}},
{"data":{"name":"rings"},"mark":{"type":"point","shape":"M-0.85,0 A0.85,1.08 0 1,1 0.85,0 A0.85,1.08 0 1,1 -0.85,0 Z","size":580,"filled":false,"stroke":"#F58A2C","strokeWidth":3,"opacity":1},"transform":[{"filter":"datum.k=='r3'"}],"encoding":{"x":{"field":"n","type":"quantitative","scale":{"domain":[-0.171,232.55],"nice":false,"zero":false}},"y":{"field":"p","type":"quantitative","scale":{"type":"log","domain":[2862,3750.1],"nice":false,"zero":false}}}},
{"data":{"name":"notes"},"mark":{"type":"text","align":"center","baseline":"middle","font":"Noto Sans CJK SC","fontSize":20,"color":"#F58A2C"},"transform":[{"filter":"datum.k=='a'"}],"encoding":{"x":{"field":"n","type":"quantitative","scale":{"domain":[-0.171,232.55],"nice":false,"zero":false}},"y":{"field":"p","type":"quantitative","scale":{"type":"log","domain":[2862,3750.1],"nice":false,"zero":false}},"text":{"field":"t"}}},
{"data":{"name":"notes"},"mark":{"type":"text","align":"center","baseline":"middle","font":"Noto Sans CJK SC","fontSize":26,"color":"#F58A2C"},"transform":[{"filter":"datum.k=='b'"}],"encoding":{"x":{"field":"n","type":"quantitative","scale":{"domain":[-0.171,232.55],"nice":false,"zero":false}},"y":{"field":"p","type":"quantitative","scale":{"type":"log","domain":[2862,3750.1],"nice":false,"zero":false}},"text":{"field":"t"}}},
{"data":{"name":"notes"},"mark":{"type":"text","align":"center","baseline":"middle","font":"Noto Sans CJK SC","fontSize":25,"color":"#F58A2C"},"transform":[{"filter":"datum.k=='c'"}],"encoding":{"x":{"field":"n","type":"quantitative","scale":{"domain":[-0.171,232.55],"nice":false,"zero":false}},"y":{"field":"p","type":"quantitative","scale":{"type":"log","domain":[2862,3750.1],"nice":false,"zero":false}},"text":{"field":"t"}}}
]}
]}
